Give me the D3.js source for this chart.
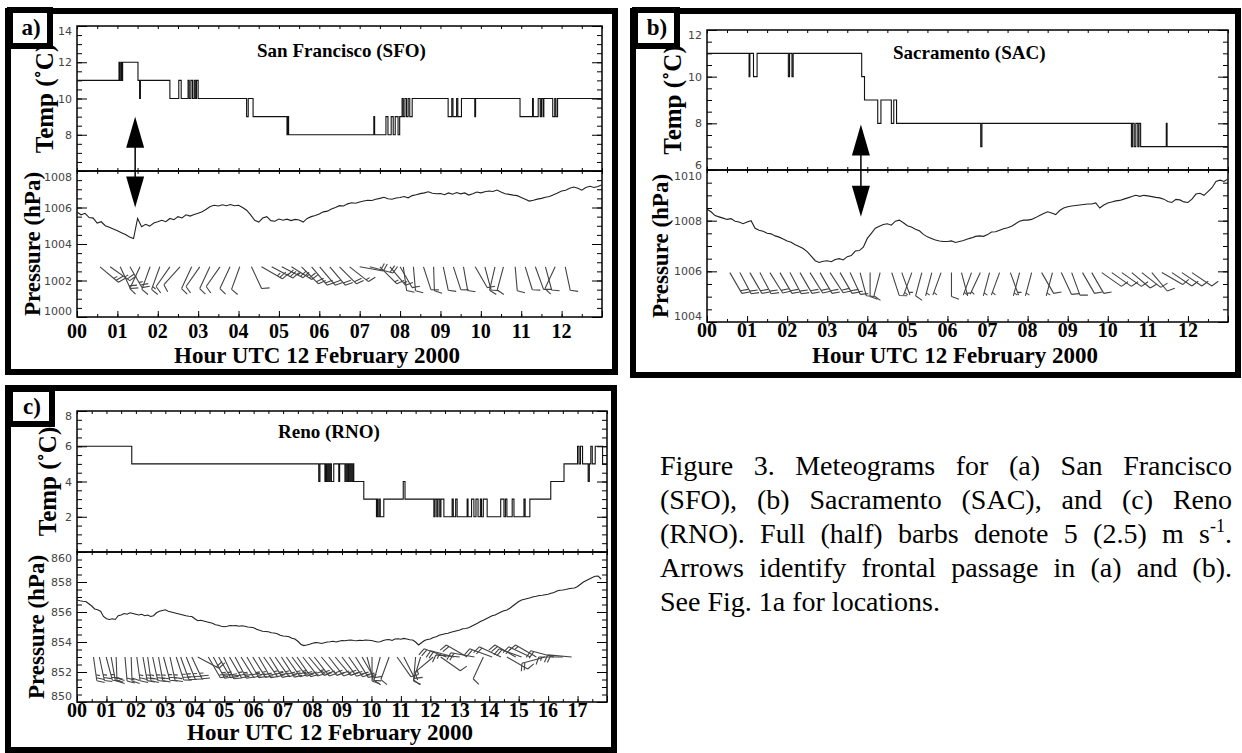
<!DOCTYPE html>
<html>
<head>
<meta charset="utf-8">
<script src="https://cdn.jsdelivr.net/npm/d3@7"></script>
<style>
  body { margin: 0; background: #fff; }
  svg { display: block; }
  .serif { font-family: "Liberation Serif", "Times New Roman", Times, serif; }
  .sans { font-family: "DejaVu Sans", sans-serif; }
</style>
</head>
<body>
<div id="chart"></div>
<script>
// ---- data ----
// temperature: [hour, degC] steps
var sfoTemp = [[0,11],[1.04,12],[1.06,11],[1.09,12],[1.11,11],[1.13,12],[1.51,11],[1.55,10],[1.57,11],
  [2.3,10],[2.52,11],[2.58,10],[2.75,11],[2.78,10],[2.82,11],[2.86,10],[2.9,11],[2.93,10],[2.96,11],[3.0,10],
  [4.2,9],[4.24,10],[4.36,9],[5.2,8],[5.22,9],[5.24,8],[7.35,9],[7.37,8],[7.65,9],[7.7,8],[7.78,9],[7.83,8],
  [7.88,9],[7.95,8],[7.99,9],[8.05,10],[8.08,9],[8.12,10],[8.16,9],[8.2,10],[8.24,9],[8.3,10],
  [9.19,9],[9.28,10],[9.31,9],[9.4,10],[9.43,9],[9.52,10],[9.85,9],[9.87,10],[10.97,9],[11.28,10],[11.3,9],
  [11.42,10],[11.47,9],[11.5,10],[11.54,9],[11.56,10],[11.78,9],[11.83,10],[11.86,9],[11.9,10],[13,10]];
var sacTemp = [[0,11],[1.05,10],[1.07,11],[1.16,10],[1.25,11],[2.03,10],[2.06,11],[2.12,10],[2.15,11],
  [3.86,10],[3.93,9],[4.26,8],[4.34,9],[4.6,8],[4.66,9],[4.73,8],[6.83,7],[6.86,8],[10.59,7],[10.62,8],
  [10.66,7],[10.7,8],[10.75,7],[10.78,8],[10.82,7],[11.46,8],[11.48,7],[13,7]];
var rnoTemp = [[0,6],[1.86,5],[8.21,4],[8.25,5],[8.42,4],[8.45,5],[8.48,4],[8.52,5],[8.56,4],[8.6,5],
  [8.64,4],[8.72,5],[8.89,4],[8.92,5],[9.1,4],[9.14,5],[9.18,4],[9.22,5],[9.26,4],[9.3,5],[9.34,4],[9.38,5],
  [9.4,4],[9.74,3],[10.17,2],[10.2,3],[10.23,2],[10.28,3],[10.3,2],[10.42,3],[11.08,4],[11.14,3],
  [12.12,2],[12.16,3],[12.22,2],[12.26,3],[12.32,2],[12.36,3],[12.46,2],[12.74,3],[12.78,2],[12.86,3],
  [12.91,2],[13.25,3],[13.28,2],[13.4,3],[13.48,2],[13.55,3],[13.62,2],[13.7,3],[13.74,2],[13.8,3],
  [13.93,2],[14.39,3],[14.5,2],[14.55,3],[14.6,2],[14.78,3],[14.84,2],[15.18,3],[15.22,2],[15.38,3],
  [16.09,4],[16.54,5],[17.0,6],[17.05,5],[17.1,6],[17.17,5],[17.36,4],[17.4,5],[17.45,6],[17.5,5],
  [17.6,6],[17.85,5],[18,5]];

// pressure (hPa), one value every 0.1 h from 00 UTC
var presStep = 0.1;
var sfoPres = [1005.75,1005.6,1005.68,1005.45,1005.42,1005.15,1005.22,1005.0,1004.92,1004.82,
  1004.72,1004.62,1004.52,1004.38,1004.3,1005.4,1004.95,1005.08,1004.98,1005.15,
  1005.22,1005.3,1005.22,1005.4,1005.33,1005.5,1005.43,1005.6,1005.53,1005.62,
  1005.68,1005.77,1005.9,1006.05,1006.12,1006.08,1006.15,1006.1,1006.16,1006.1,
  1006.12,1006.0,1005.85,1005.6,1005.3,1005.2,1005.42,1005.5,1005.28,1005.25,
  1005.37,1005.3,1005.36,1005.28,1005.35,1005.32,1005.2,1005.4,1005.5,1005.56,
  1005.64,1005.76,1005.8,1005.92,1006.0,1006.1,1006.08,1006.2,1006.26,1006.23,
  1006.3,1006.36,1006.4,1006.38,1006.45,1006.5,1006.56,1006.48,1006.45,1006.52,
  1006.55,1006.6,1006.53,1006.65,1006.7,1006.76,1006.8,1006.86,1006.78,1006.75,
  1006.77,1006.7,1006.8,1006.73,1006.82,1006.75,1006.8,1006.68,1006.75,1006.85,
  1006.8,1006.86,1006.9,1006.88,1006.96,1006.85,1006.75,1006.72,1006.68,1006.65,
  1006.55,1006.45,1006.35,1006.4,1006.46,1006.5,1006.56,1006.6,1006.7,1006.8,
  1006.9,1006.95,1007.05,1007.12,1007.05,1006.95,1007.1,1007.16,1007.1,1007.15,1007.25];
var sacPres = [1008.45,1008.35,1008.2,1008.15,1008.1,1008.05,1008.08,1007.98,1007.95,1007.88,
  1007.95,1008.0,1007.7,1007.62,1007.58,1007.5,1007.48,1007.4,1007.35,1007.28,
  1007.2,1007.15,1007.05,1006.98,1006.9,1006.78,1006.6,1006.42,1006.35,1006.4,
  1006.42,1006.38,1006.47,1006.5,1006.45,1006.58,1006.62,1006.8,1006.82,1006.95,
  1007.3,1007.5,1007.7,1007.78,1007.85,1007.88,1007.82,1007.98,1008.02,1007.92,
  1007.8,1007.75,1007.66,1007.6,1007.46,1007.36,1007.3,1007.24,1007.2,1007.18,
  1007.18,1007.2,1007.14,1007.18,1007.22,1007.28,1007.32,1007.38,1007.4,1007.38,
  1007.45,1007.55,1007.56,1007.62,1007.68,1007.72,1007.78,1007.88,1007.98,1008.02,
  1008.02,1008.05,1008.12,1008.2,1008.28,1008.35,1008.3,1008.24,1008.4,1008.5,
  1008.55,1008.58,1008.6,1008.62,1008.64,1008.66,1008.66,1008.7,1008.5,1008.62,
  1008.7,1008.74,1008.78,1008.8,1008.85,1008.9,1008.95,1009.0,1008.96,1009.0,
  1008.98,1008.95,1008.92,1008.9,1008.85,1008.76,1008.72,1008.84,1008.82,1008.74,
  1008.72,1008.85,1009.05,1009.08,1009.0,1009.15,1009.3,1009.55,1009.6,1009.55,1009.65];
var rnoPres = [856.8,856.75,856.72,856.7,856.55,856.4,856.2,856.15,856.05,855.7,
  855.55,855.5,855.55,855.5,855.75,855.8,855.9,855.85,855.95,855.9,
  855.85,855.8,855.85,855.75,855.8,855.7,855.75,855.95,856.05,856.1,
  856.15,856.05,856.0,855.95,855.9,855.85,855.8,855.75,855.72,855.7,
  855.55,855.42,855.45,855.4,855.35,855.3,855.25,855.15,855.12,855.05,
  855.02,855.05,855.1,855.08,855.1,855.05,855.08,855.05,855.0,854.98,
  854.95,854.85,854.78,854.72,854.7,854.68,854.62,854.6,854.55,854.45,
  854.4,854.38,854.35,854.25,854.2,854.05,853.85,853.76,853.8,853.85,
  853.92,853.96,853.95,853.9,853.95,854.0,854.02,854.05,854.0,854.05,
  854.1,854.08,854.12,854.13,854.1,854.08,854.12,854.1,854.13,854.12,
  854.1,854.05,854.0,854.02,854.1,854.15,854.17,854.1,854.2,854.22,
  854.18,854.24,854.2,854.15,854.13,854.0,853.8,853.95,854.1,854.17,
  854.2,854.3,854.35,854.45,854.5,854.55,854.58,854.65,854.7,854.75,
  854.8,854.88,854.9,854.95,855.05,855.15,855.25,855.36,855.45,855.55,
  855.65,855.75,855.8,855.9,856.0,856.08,856.13,856.25,856.4,856.55,
  856.7,856.8,856.85,856.9,856.95,857.02,857.05,857.1,857.12,857.15,
  857.18,857.25,857.3,857.4,857.45,857.47,857.5,857.55,857.58,857.6,
  857.7,857.85,858.0,858.1,858.2,858.3,858.38,858.4,858.2];

// wind barbs: hour, direction (deg from), speed (m/s)
var sfoBarbHour = [0.57,0.82,1.07,1.31,1.56,1.81,2.05,2.3,2.55,2.84,3.04,3.29,3.54,3.79,4.03,4.32,
  4.57,4.82,5.07,5.31,5.56,5.81,6.01,6.26,6.5,6.75,7.0,7.25,7.5,7.75,8.0,8.08,8.33,8.58,8.83,9.07,
  9.32,9.57,9.86,10.1,10.35,10.56,10.85,11.1,11.35,11.6,11.84,12.09];
var sfoBarbDir = [130,125,155,150,205,200,200,215,222,205,215,205,215,205,200,155,
  120,118,117,122,135,140,140,140,135,128,100,105,135,140,150,172,175,162,178,168,
  162,170,150,165,193,195,175,163,160,165,205,168];
var sfoBarbSpd = [12.5,12.5,10,12.5,5,5,7.5,5,5,5,5,5,5,5,5,5,
  12.5,15,12.5,12.5,10,10,10,10,10,7.5,10,10,7.5,7.5,5,5,5,5,5,5,
  5,5,5,5,5,5,5,5,5,5,5,5];
var sacBarbHour = [0.57,0.82,1.07,1.32,1.57,1.82,2.07,2.32,2.57,2.82,3.07,3.32,3.57,3.82,4.07,4.32,
  4.61,4.86,5.11,5.36,5.61,5.84,6.1,6.35,6.6,6.82,7.05,7.3,7.57,7.8,8.1,8.35,8.62,8.84,9.1,9.37,
  9.6,9.85,10.1,10.35,10.6,10.85,11.1,11.35,11.6,11.85,12.1];
var sacBarbDir = [150,152,150,152,148,150,152,150,148,150,147,150,155,165,180,195,
  162,160,200,195,195,200,180,165,200,205,195,200,160,195,195,150,195,155,160,150,
  150,125,125,125,130,128,140,120,124,124,124];
var sacBarbSpd = [10,10,10,10,10,10,10,10,10,10,10,10,7.5,5,5,5,
  5,2.5,2.5,5,2.5,2.5,5,2.5,2.5,2.5,2.5,2.5,2.5,2.5,2.5,5,2.5,5,5,5,
  5,5,5,5,5,5,5,5,5,5,5];
var rnoBarbHour = [0.56,0.76,0.99,1.16,1.33,1.63,1.84,2.03,2.24,2.4,2.57,2.77,2.94,3.16,3.37,3.52,
  3.71,3.9,4.1,4.46,4.63,4.81,4.98,5.18,5.37,5.57,5.77,5.97,6.17,6.34,6.54,6.73,6.94,7.11,7.3,7.47,
  7.67,7.87,8.06,8.3,8.55,8.77,9.0,9.23,9.46,9.68,9.85,10.02,10.3,10.6,10.87,11.1,11.5,11.67,
  12.1,12.35,12.55,12.8,13.0,13.25,13.5,13.8,14.1,14.4,14.6,14.9,15.1,15.4,15.6,15.9,16.2,16.5,16.8];
var rnoBarbDir = [172,168,165,170,178,175,178,172,170,172,168,170,165,168,162,160,
  158,155,118,150,152,150,155,150,152,148,150,148,150,145,148,145,147,145,143,145,
  142,140,142,140,142,140,143,145,148,150,165,180,195,200,145,153,185,197,
  230,125,290,285,275,300,280,205,290,295,120,300,290,295,300,255,285,270,275];
var rnoBarbSpd = [12.5,12.5,12.5,10,10,10,10,12.5,12.5,12.5,12.5,12.5,12.5,12.5,12.5,12.5,
  12.5,12.5,10,10,12.5,12.5,10,12.5,12.5,10,12.5,12.5,10,12.5,12.5,12.5,10,12.5,12.5,10,
  10,12.5,10,10,10,10,10,10,10,7.5,5,5,5,5,5,5,5,5,
  7.5,5,10,10,7.5,10,10,5,10,10,5,10,10,10,7.5,10,10,7.5,10];

// frontal passage arrows (a) and (b)
var frontHour = [1.44, 3.84];
var frontTempTip = [9.0, 7.95];
var frontPresTip = [1006.0, 1008.15];

var tempLabelsA = [8, 10, 12, 14], tempLabelsB = [6, 8, 10, 12], tempLabelsC = [2, 4, 6, 8];
var presLabelsA = [1000, 1002, 1004, 1006, 1008], presLabelsB = [1004, 1006, 1008, 1010];
var presLabelsC = [850, 852, 854, 856, 858, 860];
var hourLabelsAB = ["00","01","02","03","04","05","06","07","08","09","10","11","12"];
var hourLabelsC = ["00","01","02","03","04","05","06","07","08","09","10","11","12","13","14","15","16","17"];

var caption = ["Figure 3. Meteograms for (a) San Francisco",
  "(SFO), (b) Sacramento (SAC), and (c) Reno",
  "(RNO). Full (half) barbs denote 5 (2.5) m s",
  "Arrows identify frontal passage in (a) and (b).",
  "See Fig. 1a for locations."];

// ---- drawing ----
var W = 1242, H = 753;
var svg = d3.select("#chart").append("svg").attr("width", W).attr("height", H);

var panels = [
  { tag: "a)", name: "San Francisco (SFO)", frame: [8, 11, 607, 361], tagBox: [10, 10, 40, 36],
    x0: 77, x1: 602, tTop: 26, tBot: 171, pBot: 317, tDom: [6, 14], pDom: [1000, 1008], hMax: 13,
    temp: sfoTemp, pres: sfoPres, bh: sfoBarbHour, bd: sfoBarbDir, bs: sfoBarbSpd, level: 1002.75,
    tLab: tempLabelsA, pLab: presLabelsA, hLab: hourLabelsAB, nameX: 257, nameY: 57,
    tTitleX: 53, pTitleX: 40, xLabY: 338, titleX: 317, titleY: 363, front: 0 },
  { tag: "b)", name: "Sacramento (SAC)", frame: [633, 11, 605, 364], tagBox: [635, 10, 42, 36],
    x0: 707, x1: 1228, tTop: 30, tBot: 170, pBot: 322, tDom: [6, 12], pDom: [1004, 1010], hMax: 13,
    temp: sacTemp, pres: sacPres, bh: sacBarbHour, bd: sacBarbDir, bs: sacBarbSpd, level: 1005.95,
    tLab: tempLabelsB, pLab: presLabelsB, hLab: hourLabelsAB, nameX: 893, nameY: 59,
    tTitleX: 681, pTitleX: 668, xLabY: 337, titleX: 955, titleY: 363, front: 1 },
  { tag: "c)", name: "Reno (RNO)", frame: [8, 388, 606, 362], tagBox: [10, 389, 42, 35],
    x0: 77, x1: 607, tTop: 411, tBot: 552, pBot: 702, tDom: [0, 8], pDom: [850, 860], hMax: 18,
    temp: rnoTemp, pres: rnoPres, bh: rnoBarbHour, bd: rnoBarbDir, bs: rnoBarbSpd, level: 853.0,
    tLab: tempLabelsC, pLab: presLabelsC, hLab: hourLabelsC, nameX: 278, nameY: 438,
    tTitleX: 56, pTitleX: 44, xLabY: 717, titleX: 330, titleY: 740, front: -1 }
];

function range(a, b, s) { var r = []; for (var v = a; v <= b + 1e-9; v += s) r.push(+v.toFixed(3)); return r; }

function barbPath(x, y, dir, spd, len) {
  var r = dir * Math.PI / 180;
  var ux = Math.sin(r), uy = -Math.cos(r);
  var ex = x + ux * len, ey = y + uy * len;
  var px = uy, py = -ux;            // barbs on the clockwise side
  var bx = px * 0.94 + ux * 0.34, by = py * 0.94 + uy * 0.34;
  var p = d3.path();
  p.moveTo(x, y); p.lineTo(ex, ey);
  var full = Math.floor(spd / 5), half = (spd - full * 5) >= 2.5, off = 0;
  for (var i = 0; i < full; i++) {
    var sx = ex - ux * off, sy = ey - uy * off;
    p.moveTo(sx, sy); p.lineTo(sx + bx * 8, sy + by * 8);
    off += 3;
  }
  if (half) {
    if (full === 0) off = 3;
    var hx = ex - ux * off, hy = ey - uy * off;
    p.moveTo(hx, hy); p.lineTo(hx + bx * 4, hy + by * 4);
  }
  return p.toString();
}

panels.forEach(function (P) {
  var g = svg.append("g");
  var x = d3.scaleLinear().domain([0, P.hMax]).range([P.x0, P.x1]);
  var yT = d3.scaleLinear().domain(P.tDom).range([P.tBot, P.tTop]);
  var yP = d3.scaleLinear().domain(P.pDom).range([P.pBot, P.tBot]);

  // outer frame and tag box
  g.append("rect").attr("x", P.frame[0]).attr("y", P.frame[1]).attr("width", P.frame[2]).attr("height", P.frame[3])
    .attr("fill", "none").attr("stroke", "#000").attr("stroke-width", 6);
  g.append("rect").attr("x", P.tagBox[0]).attr("y", P.tagBox[1]).attr("width", P.tagBox[2]).attr("height", P.tagBox[3])
    .attr("fill", "#fff").attr("stroke", "#000").attr("stroke-width", 6);
  g.append("text").attr("class", "serif").attr("x", P.tagBox[0] + P.tagBox[2] / 2 + 1).attr("y", P.tagBox[1] + 25)
    .attr("text-anchor", "middle").attr("font-weight", "bold")
    .attr("font-size", 23).text(P.tag);

  // ticks
  var tMin = range(P.tDom[0], P.tDom[1], 0.5), pMin = range(P.pDom[0], P.pDom[1], 0.5);
  var tMaj = range(P.tDom[0], P.tDom[1], 2), pMaj = range(P.pDom[0], P.pDom[1], 2);
  var hMin = range(0, P.hMax, 0.5), hMaj = range(0, P.hMax, 1);
  function ax(gen, scale, vals, size, tx) {
    var a = g.append("g").attr("transform", tx)
      .call(gen(scale).tickValues(vals).tickSize(size).tickSizeOuter(0).tickFormat(""));
    a.select(".domain").remove();
    a.selectAll("line").attr("stroke", "#000").attr("stroke-width", 1);
  }
  [[yT, tMin, tMaj], [yP, pMin, pMaj]].forEach(function (s) {
    ax(d3.axisLeft, s[0], s[1], -5, "translate(" + P.x0 + ",0)");
    ax(d3.axisLeft, s[0], s[2], -10, "translate(" + P.x0 + ",0)");
    ax(d3.axisRight, s[0], s[1], -5, "translate(" + P.x1 + ",0)");
    ax(d3.axisRight, s[0], s[2], -10, "translate(" + P.x1 + ",0)");
  });
  ax(d3.axisTop, x, hMin, -3, "translate(0," + P.tTop + ")");
  ax(d3.axisBottom, x, hMin, -3, "translate(0," + P.tBot + ")");
  ax(d3.axisTop, x, hMin, -3, "translate(0," + P.tBot + ")");
  ax(d3.axisBottom, x, hMin, -3, "translate(0," + P.pBot + ")");
  ax(d3.axisBottom, x, hMaj, -6, "translate(0," + P.pBot + ")");

  // plot frames
  g.append("rect").attr("x", P.x0).attr("y", P.tTop).attr("width", P.x1 - P.x0).attr("height", P.tBot - P.tTop)
    .attr("fill", "none").attr("stroke", "#000").attr("stroke-width", 1.5);
  g.append("rect").attr("x", P.x0).attr("y", P.tBot).attr("width", P.x1 - P.x0).attr("height", P.pBot - P.tBot)
    .attr("fill", "none").attr("stroke", "#000").attr("stroke-width", 1.5);

  // y tick labels (end labels nudged inside, as on the original)
  function ylab(scale, vals, dom, isTemp) {
    g.append("g").selectAll("text").data(vals).join("text")
      .attr("class", "sans")
      .attr("x", P.x0 - 5).attr("y", function (d) {
        var dy = 0;
        if (d === dom[1]) dy = isTemp ? 5 : 6;
        else if (d === dom[0]) dy = isTemp ? -5 : -6;
        return scale(d) + 4 + dy;
      })
      .attr("text-anchor", "end").attr("font-size", 11)
      .attr("fill", "#444").text(function (d) { return d; });
  }
  ylab(yT, P.tLab, P.tDom, true);
  ylab(yP, P.pLab, P.pDom, false);

  // x tick labels and axis title
  g.append("g").selectAll("text").data(P.hLab).join("text")
    .attr("class", "serif")
    .attr("x", function (d) { return x(+d); }).attr("y", P.xLabY)
    .attr("text-anchor", "middle").attr("font-weight", "bold")
    .attr("font-size", 20).text(function (d) { return d; });
  g.append("text").attr("class", "serif").attr("x", P.titleX).attr("y", P.titleY)
    .attr("text-anchor", "middle").attr("font-weight", "bold")
    .attr("font-size", 23).text("Hour UTC 12 February 2000");

  // y axis titles
  g.append("text").attr("class", "serif")
    .attr("transform", "translate(" + P.tTitleX + "," + (P.tTop + P.tBot) / 2 + ") rotate(-90)")
    .attr("text-anchor", "middle").attr("font-weight", "bold")
    .attr("font-size", 25).text("Temp (\u02DAC)");
  g.append("text").attr("class", "serif")
    .attr("transform", "translate(" + P.pTitleX + "," + (P.tBot + P.pBot) / 2 + ") rotate(-90)")
    .attr("text-anchor", "middle").attr("font-weight", "bold")
    .attr("font-size", 23).text("Pressure (hPa)");

  // station name
  g.append("text").attr("class", "serif").attr("x", P.nameX).attr("y", P.nameY)
    .attr("font-weight", "bold").attr("font-size", 19).text(P.name);

  // temperature
  g.append("path").datum(P.temp)
    .attr("d", d3.line().curve(d3.curveStepAfter).x(function (d) { return x(d[0]); }).y(function (d) { return yT(d[1]); }))
    .attr("fill", "none").attr("stroke", "#111").attr("stroke-width", 1.1);

  // pressure
  g.append("path").datum(P.pres)
    .attr("d", d3.line().x(function (d, i) { return x(i * presStep); }).y(function (d) { return yP(d); }))
    .attr("fill", "none").attr("stroke", "#222").attr("stroke-width", 1.1);

  // wind barbs
  g.append("g").selectAll("path").data(P.bh).join("path")
    .attr("d", function (h, i) { return barbPath(x(h), yP(P.level), P.bd[i], P.bs[i], 24); })
    .attr("fill", "none").attr("stroke", "#444").attr("stroke-width", 1.1);

  // frontal passage arrow
  if (P.front >= 0) {
    var fx = x(frontHour[P.front]);
    var yUp = yT(frontTempTip[P.front]), yDn = yP(frontPresTip[P.front]);
    g.append("line").attr("x1", fx).attr("x2", fx).attr("y1", yUp + 20).attr("y2", yDn - 20)
      .attr("stroke", "#000").attr("stroke-width", 1.5);
    g.append("path").attr("d", "M" + fx + "," + yUp + "L" + (fx - 9) + "," + (yUp + 31) + "L" + (fx + 9) + "," + (yUp + 31) + "Z");
    g.append("path").attr("d", "M" + fx + "," + yDn + "L" + (fx - 9) + "," + (yDn - 31) + "L" + (fx + 9) + "," + (yDn - 31) + "Z");
  }
});

// caption, justified like the page text
var capX = 660, capW = 572, capY0 = 475, capDy = 34;
var cap = svg.append("g").attr("class", "serif").attr("font-size", 28).attr("fill", "#000");
caption.forEach(function (line, i) {
  var t = cap.append("text").attr("x", capX).attr("y", capY0 + i * capDy);
  t.append("tspan").text(line);
  if (i === 2) {
    t.append("tspan").attr("dy", -11).attr("font-size", 18).text("-1");
    t.append("tspan").attr("dy", 11).text(".");
  }
  if (i < 4) {
    var len = t.node().getComputedTextLength();
    var spaces = line.split(" ").length - 1;
    if (spaces > 0 && len < capW) t.attr("word-spacing", (capW - len) / spaces);
  }
});
</script>
</body>
</html>
